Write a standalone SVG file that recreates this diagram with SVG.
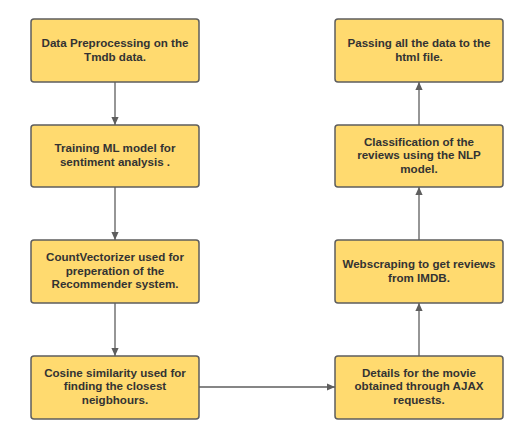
<svg xmlns="http://www.w3.org/2000/svg" width="529" height="443" viewBox="0 0 529 443">
<style>
.box{fill:#FFDA6F;stroke:#5E5E5E;stroke-width:1.5}
.t{font-family:"Liberation Sans",Arial,sans-serif;font-weight:bold;font-size:11.6px;fill:#333333;text-anchor:middle}
.c{stroke:#5E5E5E;stroke-width:1.3;fill:none;marker-end:url(#ah)}
</style>
<defs>
<marker id="ah" viewBox="0 0 10 10" refX="10" refY="5" markerWidth="8" markerHeight="8" markerUnits="userSpaceOnUse" orient="auto">
<path d="M0,0.5 L10,5 L0,9.5 z" fill="#5E5E5E"/>
</marker>
</defs>
<rect width="529" height="443" fill="#ffffff"/>
<g id="connectors">
<line class="c" x1="115" y1="82" x2="115" y2="125"/>
<line class="c" x1="115" y1="187" x2="115" y2="240"/>
<line class="c" x1="115" y1="303" x2="115" y2="356"/>
<line class="c" x1="198" y1="387" x2="335" y2="387"/>
<line class="c" x1="419" y1="356" x2="419" y2="303"/>
<line class="c" x1="419" y1="240" x2="419" y2="187"/>
<line class="c" x1="419" y1="125" x2="419" y2="82"/>
</g>
<g id="n1"><rect class="box" x="31" y="19" width="168" height="63" rx="3"/>
<text class="t" x="115" y="47">Data Preprocessing on the</text><text class="t" x="115" y="61">Tmdb data.</text></g>
<g id="n2"><rect class="box" x="31" y="125" width="168" height="62" rx="3"/>
<text class="t" x="115" y="152">Training ML model for</text><text class="t" x="115" y="166">sentiment analysis .</text></g>
<g id="n3"><rect class="box" x="31" y="240" width="168" height="63" rx="3"/>
<text class="t" x="115" y="261">CountVectorizer used for</text><text class="t" x="115" y="274.5">preperation of the</text><text class="t" x="115" y="288">Recommender system.</text></g>
<g id="n4"><rect class="box" x="31" y="356" width="168" height="63" rx="3"/>
<text class="t" x="115" y="376.5">Cosine similarity used for</text><text class="t" x="115" y="390">finding the closest</text><text class="t" x="115" y="404">neigbhours.</text></g>
<g id="n5"><rect class="box" x="335" y="356" width="168" height="63" rx="3"/>
<text class="t" x="419" y="376.5">Details for the movie</text><text class="t" x="419" y="390">obtained through AJAX</text><text class="t" x="419" y="404">requests.</text></g>
<g id="n6"><rect class="box" x="335" y="240" width="168" height="63" rx="3"/>
<text class="t" x="419" y="267.5">Webscraping to get reviews</text><text class="t" x="419" y="281.5">from IMDB.</text></g>
<g id="n7"><rect class="box" x="335" y="125" width="168" height="62" rx="3"/>
<text class="t" x="419" y="145.5">Classification of the</text><text class="t" x="419" y="159">reviews using the NLP</text><text class="t" x="419" y="173">model.</text></g>
<g id="n8"><rect class="box" x="335" y="19" width="168" height="63" rx="3"/>
<text class="t" x="419" y="47">Passing all the data to the</text><text class="t" x="419" y="61">html file.</text></g>
</svg>
